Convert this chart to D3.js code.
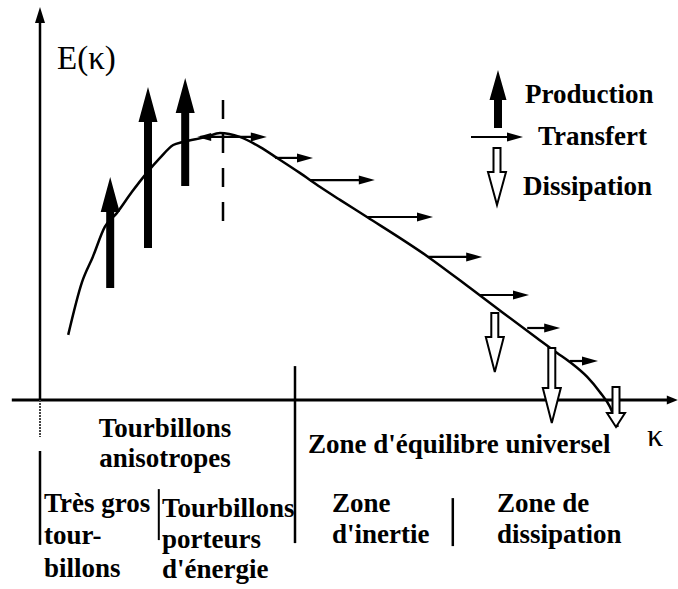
<!DOCTYPE html>
<html>
<head>
<meta charset="utf-8">
<script src="https://cdn.jsdelivr.net/npm/d3@7"></script>
<style>
  body { margin: 0; background: #fff; }
</style>
</head>
<body>
<div id="container"></div>
<script>
/* CONSTANTS AND GLOBALS */
const width = 678;
const height = 589;
const serif = "Liberation Serif";

/* DATA  (kappa and E in arbitrary units) */
const spectrumK = [4.7, 7, 8.8, 10.8, 12.8, 15.3, 17.8, 20, 22.2, 23.8, 27.8, 30, 33.3, 36.7, 39.5, 43.3, 46.7, 50, 54.5, 64.7, 71.7, 77.2, 82.8, 86.2, 88.3, 91.2, 93.3, 95, 96.3];
const spectrumE = [21.7, 39.3, 47.7, 57.7, 62.3, 69.3, 75.7, 80.7, 85, 86, 87.7, 89, 87.7, 84.3, 80.7, 75.7, 71, 66.7, 61, 47.7, 37.3, 29, 20.7, 15.7, 12.7, 7.7, 2.7, -2.3, -9];

// production (filled up arrows)
const productionK = [11.7, 18, 24.2];
const productionFrom = [37.3, 50.7, 71.3];
const productionTo = [74.3, 104.3, 107.3];

// transfer (thin right arrows)
const transferFrom = [26.7, 39.2, 45, 54.5, 64.7, 73.3, 81.2, 88.3];
const transferTo = [37.8, 45.5, 55.8, 65.5, 73.7, 81.5, 86.7, 93];
const transferE = [87.7, 80.7, 73.3, 61, 47.7, 35, 24, 13];

// dissipation (hollow down arrows)
const dissipationK = [75.8, 85.3, 96];
const dissipationFrom = [29, 17.3, 4.3];
const dissipationTo = [9.3, -7.7, -9];

// zone limits on the kappa axis
const peakK = 30.5;
const zoneK = [0, 19.8, 42.5, 68.8];

const legendLabels = ["Production", "Transfert", "Dissipation"];
const rangeLabels = ["Tourbillons", "anisotropes", "Zone d'équilibre universel"];
const bigEddyLabel = ["Très gros", "tour-", "billons"];
const energyLabel = ["Tourbillons", "porteurs", "d'énergie"];
const inertiaLabel = ["Zone", "d'inertie"];
const dissLabel = ["Zone de", "dissipation"];

/* SCALES */
const xScale = d3.scaleLinear().domain([0, 100]).range([40, 640]);
const yScale = d3.scaleLinear().domain([0, 100]).range([400, 100]);

/* HTML ELEMENTS */
const svg = d3.select("#container")
  .append("svg")
  .attr("width", width)
  .attr("height", height);

// axes
svg.append("line")
  .attr("x1", xScale(-4.7)).attr("x2", xScale(104.8))
  .attr("y1", yScale(0)).attr("y2", yScale(0))
  .attr("stroke", "#000").attr("stroke-width", 3);
svg.append("path")
  .attr("d", `M${xScale(106.3)},${yScale(0)} l-11,-4.5 l0,9 z`)
  .attr("fill", "#000");

svg.append("line")
  .attr("x1", xScale(0)).attr("x2", xScale(0))
  .attr("y1", yScale(0)).attr("y2", yScale(127))
  .attr("stroke", "#000").attr("stroke-width", 2.5);
svg.append("path")
  .attr("d", `M${xScale(0)},${yScale(131)} l-5,16 l10,0 z`)
  .attr("fill", "#000");

// y axis below the kappa axis, then zone limits
svg.append("line")
  .attr("x1", xScale(0)).attr("x2", xScale(0))
  .attr("y1", yScale(0)).attr("y2", yScale(-12.3))
  .attr("stroke", "#444").attr("stroke-width", 2).attr("stroke-dasharray", "2,1");
svg.append("line")
  .attr("x1", xScale(zoneK[0])).attr("x2", xScale(zoneK[0]))
  .attr("y1", yScale(-17)).attr("y2", yScale(-48.3))
  .attr("stroke", "#000").attr("stroke-width", 2.5);
svg.append("line")
  .attr("x1", xScale(zoneK[1])).attr("x2", xScale(zoneK[1]))
  .attr("y1", yScale(-29.7)).attr("y2", yScale(-46.7))
  .attr("stroke", "#000").attr("stroke-width", 2);
svg.append("line")
  .attr("x1", xScale(zoneK[2])).attr("x2", xScale(zoneK[2]))
  .attr("y1", yScale(11.3)).attr("y2", yScale(-47.7))
  .attr("stroke", "#000").attr("stroke-width", 2.5);
svg.append("line")
  .attr("x1", xScale(zoneK[3])).attr("x2", xScale(zoneK[3]))
  .attr("y1", yScale(-32.7)).attr("y2", yScale(-48.7))
  .attr("stroke", "#000").attr("stroke-width", 2.5);

// dashed line at the spectrum peak
svg.append("line")
  .attr("x1", xScale(peakK)).attr("x2", xScale(peakK))
  .attr("y1", yScale(100)).attr("y2", yScale(56.7))
  .attr("stroke", "#000").attr("stroke-width", 2.5)
  .attr("stroke-dasharray", "19,15");

// spectrum curve
const line = d3.line()
  .x(i => xScale(spectrumK[i]))
  .y(i => yScale(spectrumE[i]))
  .curve(d3.curveMonotoneX);

svg.append("path")
  .attr("d", line(d3.range(spectrumK.length)))
  .attr("fill", "none")
  .attr("stroke", "#000")
  .attr("stroke-width", 2.5);

/* ARROW HELPERS */
function vArrow(x, yBase, yTip, headLen, headW, shaftW) {
  const dir = yTip < yBase ? 1 : -1;  // 1 = pointing up
  const yh = yTip + dir * headLen;
  return `M${x - shaftW / 2},${yBase} L${x - shaftW / 2},${yh} L${x - headW / 2},${yh}` +
    ` L${x},${yTip} L${x + headW / 2},${yh} L${x + shaftW / 2},${yh} L${x + shaftW / 2},${yBase} Z`;
}

function hArrow(g, x0, x1, y) {
  g.append("line")
    .attr("x1", x0).attr("x2", x1 - 8)
    .attr("y1", y).attr("y2", y)
    .attr("stroke", "#000").attr("stroke-width", 2.2);
  g.append("path")
    .attr("d", `M${x1},${y} l-16,-4.5 l0,9 z`)
    .attr("fill", "#000");
}

// production arrows
svg.selectAll("path.prod")
  .data(productionK)
  .join("path")
  .attr("class", "prod")
  .attr("d", (d, i) => vArrow(xScale(d), yScale(productionFrom[i]), yScale(productionTo[i]), 35, 19, 8))
  .attr("fill", "#000");

// transfer arrows
const tg = svg.append("g");
transferFrom.forEach((d, i) => hArrow(tg, xScale(d), xScale(transferTo[i]), yScale(transferE[i])));
// small back head at the peak
tg.append("path")
  .attr("d", `M${xScale(transferFrom[0]) - 3},${yScale(transferE[0])} l14,-4 l0,8 z`)
  .attr("fill", "#000");

// dissipation arrows
svg.selectAll("path.diss")
  .data(dissipationK)
  .join("path")
  .attr("class", "diss")
  .attr("d", (d, i) => {
    const y0 = yScale(dissipationFrom[i]);
    const y1 = yScale(dissipationTo[i]);
    const head = (y1 - y0) > 50 ? 35 : 14;
    return vArrow(xScale(d), y0, y1, head, 18, 7);
  })
  .attr("fill", "#fff")
  .attr("stroke", "#000")
  .attr("stroke-width", 2);

/* LEGEND */
const legend = svg.append("g");
legend.append("path").attr("d", vArrow(498, 128, 70, 30, 17, 8)).attr("fill", "#000");
hArrow(legend, 471, 523, 137);
legend.append("path").attr("d", vArrow(497, 148, 205, 33, 18, 7))
  .attr("fill", "#fff").attr("stroke", "#000").attr("stroke-width", 2);

const legendPos = [[525, 103], [538, 145], [523, 195]];
legend.selectAll("text")
  .data(legendLabels)
  .join("text")
  .attr("x", (d, i) => legendPos[i][0])
  .attr("y", (d, i) => legendPos[i][1])
  .attr("font-family", serif)
  .attr("font-size", 27)
  .attr("font-weight", "bold")
  .text(d => d);

/* TEXT LABELS */
svg.append("text").attr("x", 57).attr("y", 69)
  .attr("font-family", serif).attr("font-size", 33).text("E(κ)");
svg.append("text").attr("x", 647).attr("y", 446)
  .attr("font-family", serif).attr("font-size", 32).text("κ");

function block(lines, x, ys, anchor) {
  svg.append("g").selectAll("text")
    .data(lines)
    .join("text")
    .attr("x", x)
    .attr("y", (d, i) => ys[i])
    .attr("text-anchor", anchor || "start")
    .attr("font-family", serif)
    .attr("font-size", 27)
    .attr("font-weight", "bold")
    .text(d => d);
}

block(rangeLabels.slice(0, 2), 165, [437, 467], "middle");
block(rangeLabels.slice(2), 308, [453]);
block(bigEddyLabel, 44, [512, 544, 577]);
block(energyLabel, 162, [517, 548, 578]);
block(inertiaLabel, 332, [512, 543]);
block(dissLabel, 497, [512, 543]);
</script>
</body>
</html>
